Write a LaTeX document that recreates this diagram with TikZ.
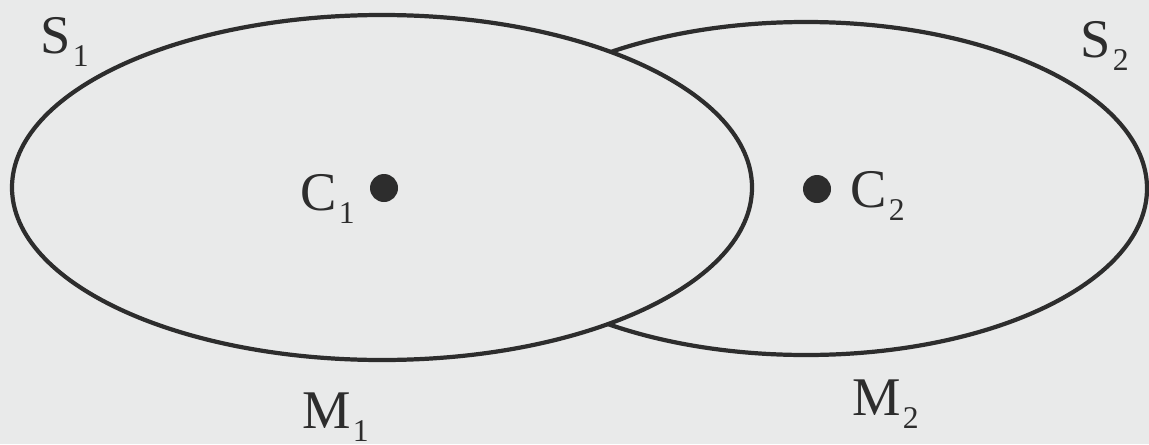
\documentclass[tikz,border=0pt]{standalone}
\usepackage{fontspec}
\setmainfont{Liberation Serif}
\usepackage{tikz}
\usetikzlibrary{positioning}
\definecolor{paper}{RGB}{233,234,234}
\definecolor{ink}{RGB}{45,45,45}
\newcommand{\lbl}[2]{#1\hspace{0.5pt}\raisebox{-3.8pt}{\fontsize{9}{11}\selectfont #2}}

\begin{document}
\begin{tikzpicture}[
    every node/.style={font=\fontsize{15.5}{18}\selectfont, text=ink, inner sep=0pt, anchor=base west},
    rim/.style={draw=ink, line width=1.2pt},
    centre/.style={circle, fill=ink, minimum size=0.28cm, inner sep=0pt, anchor=center}
]
\fill[paper] (0,0) rectangle (11.49,4.44);
\useasboundingbox (0,0) rectangle (11.49,4.44);

% the two surfaces
\draw[rim] (8.06,2.555) ellipse [x radius=3.41cm, y radius=1.665cm];
\draw[rim, fill=paper] (3.82,2.565) ellipse [x radius=3.70cm, y radius=1.725cm];

% centres
\node (c1dot) [centre] at (3.84,2.56) {};
\node (c2dot) [centre] at (8.17,2.55) {};
\node (c1) at (3.00,2.34) {\lbl{C}{1}};
\node (c2) at (8.50,2.37) {\lbl{C}{2}};

% labels
\node (s1) at (0.40,3.91) {\lbl{S}{1}};
\node (s2) at (10.80,3.87) {\lbl{S}{2}};
\node (m1) at (3.02,0.16) {\lbl{M}{1}};
\node (m2) at (8.52,0.29) {\lbl{M}{2}};
\end{tikzpicture}
\end{document}
